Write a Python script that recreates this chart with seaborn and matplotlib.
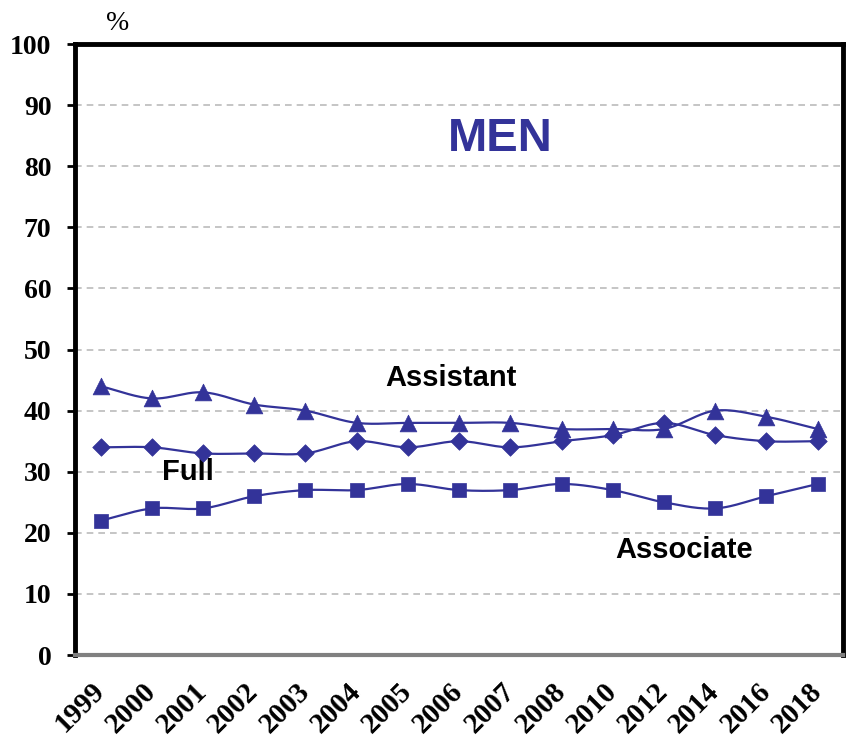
import numpy as np
import pandas as pd
import matplotlib
matplotlib.use("Agg")
import matplotlib.pyplot as plt
import seaborn as sns

# data (percent of men by rank)
years = ["1999", "2000", "2001", "2002", "2003", "2004", "2005", "2006",
         "2007", "2008", "2010", "2012", "2014", "2016", "2018"]
assistant = [44, 42, 43, 41, 40, 38, 38, 38, 38, 37, 37, 37, 40, 39, 37]
full = [34, 34, 33, 33, 33, 35, 34, 35, 34, 35, 36, 38, 36, 35, 35]
associate = [22, 24, 24, 26, 27, 27, 28, 27, 27, 28, 27, 25, 24, 26, 28]

blue = "#333399"

sns.set_style("white")
plt.rcParams["font.family"] = ["Liberation Sans", "DejaVu Sans"]
plt.rcParams["text.color"] = "black"


def smooth(x, y, n=24):
    # catmull-rom curve through the points (like Excel smoothed lines)
    x = np.asarray(x, float)
    y = np.asarray(y, float)
    px = np.concatenate([[2 * x[0] - x[1]], x, [2 * x[-1] - x[-2]]])
    py = np.concatenate([[2 * y[0] - y[1]], y, [2 * y[-1] - y[-2]]])
    t = np.linspace(0, 1, n, endpoint=False)
    xs, ys = [], []
    for i in range(1, len(px) - 2):
        for p, out in ((px, xs), (py, ys)):
            p0, p1, p2, p3 = p[i - 1], p[i], p[i + 1], p[i + 2]
            out.extend(0.5 * ((2 * p1) + (-p0 + p2) * t
                              + (2 * p0 - 5 * p1 + 4 * p2 - p3) * t ** 2
                              + (-p0 + 3 * p1 - 3 * p2 + p3) * t ** 3))
    xs.append(x[-1])
    ys.append(y[-1])
    return np.array(xs), np.array(ys)


pos = np.arange(len(years))
series = {"Assistant": (assistant, "^", 145),
          "Full": (full, "D", 80),
          "Associate": (associate, "s", 100)}

fig = plt.figure(figsize=(8.46, 7.41), dpi=100)
ax = fig.add_axes([0.0887, 0.116, 0.908, 0.8245])

for name, (vals, mk, size) in series.items():
    sx, sy = smooth(pos, vals)
    ax.plot(sx, sy, color=blue, lw=1.6, zorder=3)
    sns.scatterplot(x=pos, y=vals, marker=mk, s=size, color=blue,
                    edgecolor=blue, linewidth=0.5, ax=ax, zorder=4)

ax.set_xlim(-0.5, len(years) - 0.5)
ax.set_ylim(0, 100)
ax.set_yticks(range(0, 101, 10))
ax.set_yticklabels([str(v) for v in range(0, 101, 10)], color="black",
                   family="Liberation Serif", fontweight="bold", fontsize=20)
ax.set_xticks(pos)
ax.set_xticklabels(years, rotation=45, ha="right", va="center", rotation_mode="anchor",
                   color="black", family="Liberation Serif", fontweight="bold", fontsize=21)
ax.set_xticks(np.arange(-0.5, len(years)), minor=True)
ax.tick_params(axis="x", which="major", length=0, pad=23)
ax.tick_params(axis="x", which="minor", length=6, width=1.5, color="#999999", direction="out")
ax.tick_params(axis="y", length=6, width=2, color="black", direction="out", pad=11, left=True)
ax.set_xlabel("")
ax.set_ylabel("")

for v in range(10, 100, 10):
    ax.axhline(v, color="#bbbbbb", lw=1.2, ls=(0, (4, 3)), zorder=1)

for side in ("left", "top", "right"):
    ax.spines[side].set_color("black")
    ax.spines[side].set_linewidth(3.5)
ax.spines["bottom"].set_color("#808080")
ax.spines["bottom"].set_linewidth(3)

fig.text(118 / 846, 1 - 23 / 741, "%", ha="center", va="center",
         family="Liberation Serif", fontsize=20)

ax.text(7.8, 84.5, "MEN", color=blue, fontsize=34, fontweight="bold", ha="center", va="center")
ax.text(6.85, 45.3, "Assistant", fontsize=21, fontweight="bold", ha="center", va="center")
ax.text(1.7, 30.0, "Full", fontsize=21, fontweight="bold", ha="center", va="center")
ax.text(11.4, 17.2, "Associate", fontsize=21, fontweight="bold", ha="center", va="center")

fig.savefig("out.png", dpi=100)
